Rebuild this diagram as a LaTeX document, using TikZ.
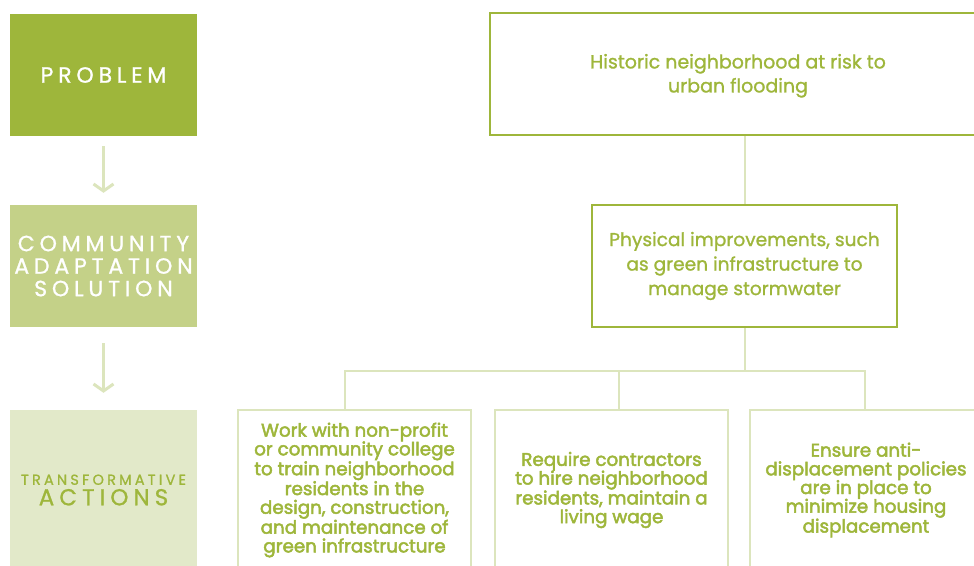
\documentclass[tikz,border=0pt]{standalone}
\usepackage{fontspec}
\setmainfont{Poppins}
\newfontfamily\medium{Poppins}[FakeBold=1.2]
\newfontfamily\semi{Poppins}[FakeBold=2.6]
\newfontfamily\spaced{Poppins}[LetterSpace=22,FakeBold=1]
\usetikzlibrary{arrows.meta}
\definecolor{leafdark}{HTML}{9EB63B}
\definecolor{leafmid}{HTML}{C4D188}
\definecolor{leaflight}{HTML}{E2E9C9}
\definecolor{stem}{HTML}{DCE5BD}

\begin{document}
\begin{tikzpicture}[x=1pt,y=-1pt,
    tag/.style={minimum width=187pt,minimum height=122pt,inner sep=0pt,align=center,font=\spaced\fontsize{22}{22.5}\selectfont},
    topbox/.style={draw=leafdark,line width=2pt,text=leafdark,align=center,inner sep=0pt},
    actbox/.style={draw=stem,line width=2pt,text=leafdark,align=center,inner sep=0pt,
        minimum width=233pt,minimum height=160pt,font=\semi\fontsize{18.3}{18.7}\selectfont},
    link/.style={stem,line width=2pt},
    down/.style={stem,line width=3pt,-{Straight Barb[length=7pt,width=20pt]}}]
            \clip (0,0) rectangle (974,565);
            % left column
            \node[tag,fill=leafdark,text=white] (problem) at (103.5,75) {PROBLEM};
            \node[tag,fill=leafmid,text=white] (solution) at (103.5,266) {COMMUNITY\\ADAPTATION\\SOLUTION};
            \node[tag,fill=leaflight,text=leafdark,minimum height=160pt] (actions) at (103.5,490)
                {{\fontsize{14.5}{16}\selectfont TRANSFORMATIVE}\\[-2pt]{\fontsize{23}{22}\selectfont ACTIONS}};
            \draw[down] ([yshift=-10]problem.south) -- ([yshift=12]solution.north);
            \draw[down] ([yshift=-16]solution.south) -- ([yshift=17]actions.north);
            % chart
            \node[topbox,minimum width=496pt,minimum height=122pt,font=\medium\fontsize{19}{24}\selectfont] (risk) at (738,74)
                {\\[-6pt]Historic neighborhood at risk to\\urban flooding};
            \node[topbox,minimum width=305pt,minimum height=122pt,font=\medium\fontsize{18.6}{24.5}\selectfont] (improve) at (744.5,266)
                {Physical improvements, such\\as green infrastructure to\\manage stormwater};
            \node[actbox] (train) at (354.5,490)
                {Work with non-profit\\or community college\\to train neighborhood\\residents in the\\design, construction,\\and maintenance of\\green infrastructure};
            \node[actbox] (hire) at (611.5,490)
                {Require contractors\\to hire neighborhood\\residents, maintain a\\living wage};
            \node[actbox] (ensure) at (866,490)
                {Ensure anti-\\displacement policies\\are in place to\\minimize housing\\displacement};
            \draw[link] (improve.north |- risk.south) -- (improve.north);
            \draw[link] (improve.south) -- ++(0,43) coordinate (split);
            \draw[link] ([xshift=-9.5]train.north) |- (split) -| ([xshift=-1]ensure.north);
            \draw[link] ([xshift=7.5]hire.north) -- ([xshift=7.5]hire.north |- split);
\end{tikzpicture}
\end{document}
